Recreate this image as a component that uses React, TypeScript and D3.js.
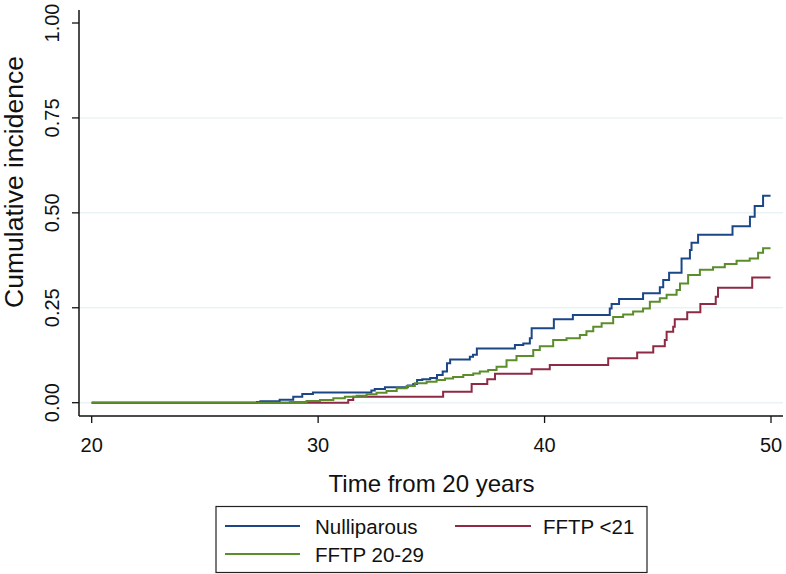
import React from "react";
import * as d3 from "d3";

// ---- data ----
const xTicks = [20, 30, 40, 50];
const yTicks = [0, 0.25, 0.5, 0.75, 1];
const yTickLabels = ["0.00", "0.25", "0.50", "0.75", "1.00"];
const gridValues = [0, 0.25, 0.5, 0.75];

const nulliparousTime = [20, 27.3, 27.45, 28.3, 28.9, 29.3, 29.77, 32.35, 32.5, 32.95, 33.96, 34.2, 34.37, 34.6, 34.95, 35.25, 35.5, 35.69, 35.83, 36.7, 36.84, 37.01, 38.69, 39.06, 39.35, 39.43, 40.41, 41.25, 42.88, 42.96, 43.29, 44.35, 45.09, 45.24, 45.5, 46.05, 46.42, 46.49, 46.78, 48.3, 49.07, 49.28, 49.65, 49.98];
const nulliparousValue = [0, 0.002, 0.004, 0.008, 0.016, 0.023, 0.027, 0.032, 0.036, 0.041, 0.045, 0.049, 0.06, 0.062, 0.065, 0.073, 0.082, 0.104, 0.114, 0.121, 0.126, 0.143, 0.152, 0.156, 0.17, 0.196, 0.22, 0.231, 0.248, 0.26, 0.273, 0.288, 0.304, 0.323, 0.342, 0.38, 0.402, 0.421, 0.442, 0.465, 0.49, 0.518, 0.545, 0.545];

const fftpUnder21Time = [20, 31.33, 31.55, 35.52, 36.78, 37.47, 37.81, 39.43, 40.23, 42.81, 44.09, 44.8, 45.31, 45.39, 45.68, 45.75, 46.3, 46.88, 47.56, 47.66, 49.17, 49.98];
const fftpUnder21Value = [0, 0.007, 0.016, 0.029, 0.049, 0.062, 0.076, 0.088, 0.099, 0.117, 0.132, 0.149, 0.165, 0.187, 0.2, 0.22, 0.238, 0.26, 0.279, 0.303, 0.33, 0.33];

const fftp2029Time = [20, 28.75, 29.49, 30.08, 30.67, 31.18, 31.7, 32.14, 32.58, 33.02, 33.47, 33.91, 34.27, 34.79, 35.23, 35.6, 35.96, 36.41, 36.85, 37.14, 37.51, 37.88, 38.32, 38.76, 39.5, 39.79, 40.38, 40.97, 41.56, 41.85, 42.15, 42.52, 43.03, 43.47, 43.91, 44.35, 44.65, 45.09, 45.39, 45.83, 45.98, 46.34, 46.86, 47.44, 47.96, 48.48, 49.06, 49.43, 49.65, 49.98];
const fftp2029Value = [0, 0.002, 0.0045, 0.007, 0.0115, 0.016, 0.018, 0.022, 0.026, 0.031, 0.038, 0.044, 0.051, 0.055, 0.06, 0.064, 0.068, 0.073, 0.077, 0.082, 0.086, 0.095, 0.112, 0.123, 0.139, 0.149, 0.165, 0.17, 0.178, 0.188, 0.2, 0.209, 0.226, 0.232, 0.24, 0.248, 0.266, 0.275, 0.284, 0.297, 0.314, 0.336, 0.35, 0.357, 0.365, 0.374, 0.38, 0.395, 0.407, 0.407];

const seriesNames = ["Nulliparous", "FFTP <21", "FFTP 20-29"];
const seriesColors = ["#1b4787", "#8e2a44", "#5b8d2b"];

const W = 786;
const H = 574;
const FONT = "'Liberation Sans', Arial, Helvetica, sans-serif";

export default function App() {
  const x = d3.scaleLinear().domain([20, 50]).range([91.7, 771]);
  const y = d3.scaleLinear().domain([0, 1]).range([402.7, 23]);
  const plotLeft = 79;
  const plotRight = 783;
  const plotTop = 10;
  const plotBottom = 416;

  const line = d3
    .line<[number, number]>()
    .x((d) => x(d[0]))
    .y((d) => y(d[1]))
    .curve(d3.curveStepAfter);

  const series = [
    { name: seriesNames[0], color: seriesColors[0], pts: nulliparousTime.map((t, i) => [t, nulliparousValue[i]] as [number, number]) },
    { name: seriesNames[1], color: seriesColors[1], pts: fftpUnder21Time.map((t, i) => [t, fftpUnder21Value[i]] as [number, number]) },
    { name: seriesNames[2], color: seriesColors[2], pts: fftp2029Time.map((t, i) => [t, fftp2029Value[i]] as [number, number]) },
  ];

  return (
    <svg
      width={W}
      height={H}
      style={{ position: "absolute", left: 0, top: 0, display: "block", background: "#fff" }}
      fontFamily={FONT}
    >
      <rect x={0} y={0} width={W} height={H} fill="#fff" />
      {/* gridlines */}
      {gridValues.map((g) => (
        <line key={g} x1={plotLeft} x2={plotRight} y1={y(g)} y2={y(g)} stroke="#e9f3f3" strokeWidth={1.5} />
      ))}
      {/* series */}
      {series.map((s) => (
        <path key={s.name} d={line(s.pts) || ""} fill="none" stroke={s.color} strokeWidth={2} strokeLinejoin="miter" />
      ))}
      {/* axes */}
      <line x1={plotLeft} x2={plotLeft} y1={plotTop} y2={plotBottom} stroke="#111" strokeWidth={1.5} />
      <line x1={plotLeft} x2={plotRight} y1={plotBottom} y2={plotBottom} stroke="#111" strokeWidth={1.5} />
      {yTicks.map((v, i) => (
        <g key={v}>
          <line x1={72} x2={plotLeft} y1={y(v)} y2={y(v)} stroke="#111" strokeWidth={1.3} />
          <text
            transform={`translate(58.5, ${y(v)}) rotate(-90)`}
            textAnchor="middle"
            fontSize={20}
            fill="#111"
          >
            {yTickLabels[i]}
          </text>
        </g>
      ))}
      {xTicks.map((t) => (
        <g key={t}>
          <line x1={x(t)} x2={x(t)} y1={plotBottom} y2={423} stroke="#111" strokeWidth={1.3} />
          <text x={x(t)} y={451.5} textAnchor="middle" fontSize={20} fill="#111">
            {t}
          </text>
        </g>
      ))}
      {/* axis titles */}
      <text x={431.5} y={491.5} textAnchor="middle" fontSize={24} fill="#111">
        Time from 20 years
      </text>
      <text transform="translate(23, 182) rotate(-90)" textAnchor="middle" fontSize={26.5} fill="#111">
        Cumulative incidence
      </text>
      {/* legend */}
      <rect x={216} y={506.5} width={431} height={66} fill="#fff" stroke="#222" strokeWidth={1.2} />
      <line x1={225} x2={300} y1={526} y2={526} stroke={seriesColors[0]} strokeWidth={2} />
      <text x={315} y={533.5} fontSize={20.5} fill="#111">{seriesNames[0]}</text>
      <line x1={455} x2={531} y1={526} y2={526} stroke={seriesColors[1]} strokeWidth={2} />
      <text x={543} y={533.5} fontSize={20.5} fill="#111">{seriesNames[1]}</text>
      <line x1={225} x2={300} y1={554} y2={554} stroke={seriesColors[2]} strokeWidth={2} />
      <text x={315} y={561.5} fontSize={20.5} fill="#111">{seriesNames[2]}</text>
    </svg>
  );
}
